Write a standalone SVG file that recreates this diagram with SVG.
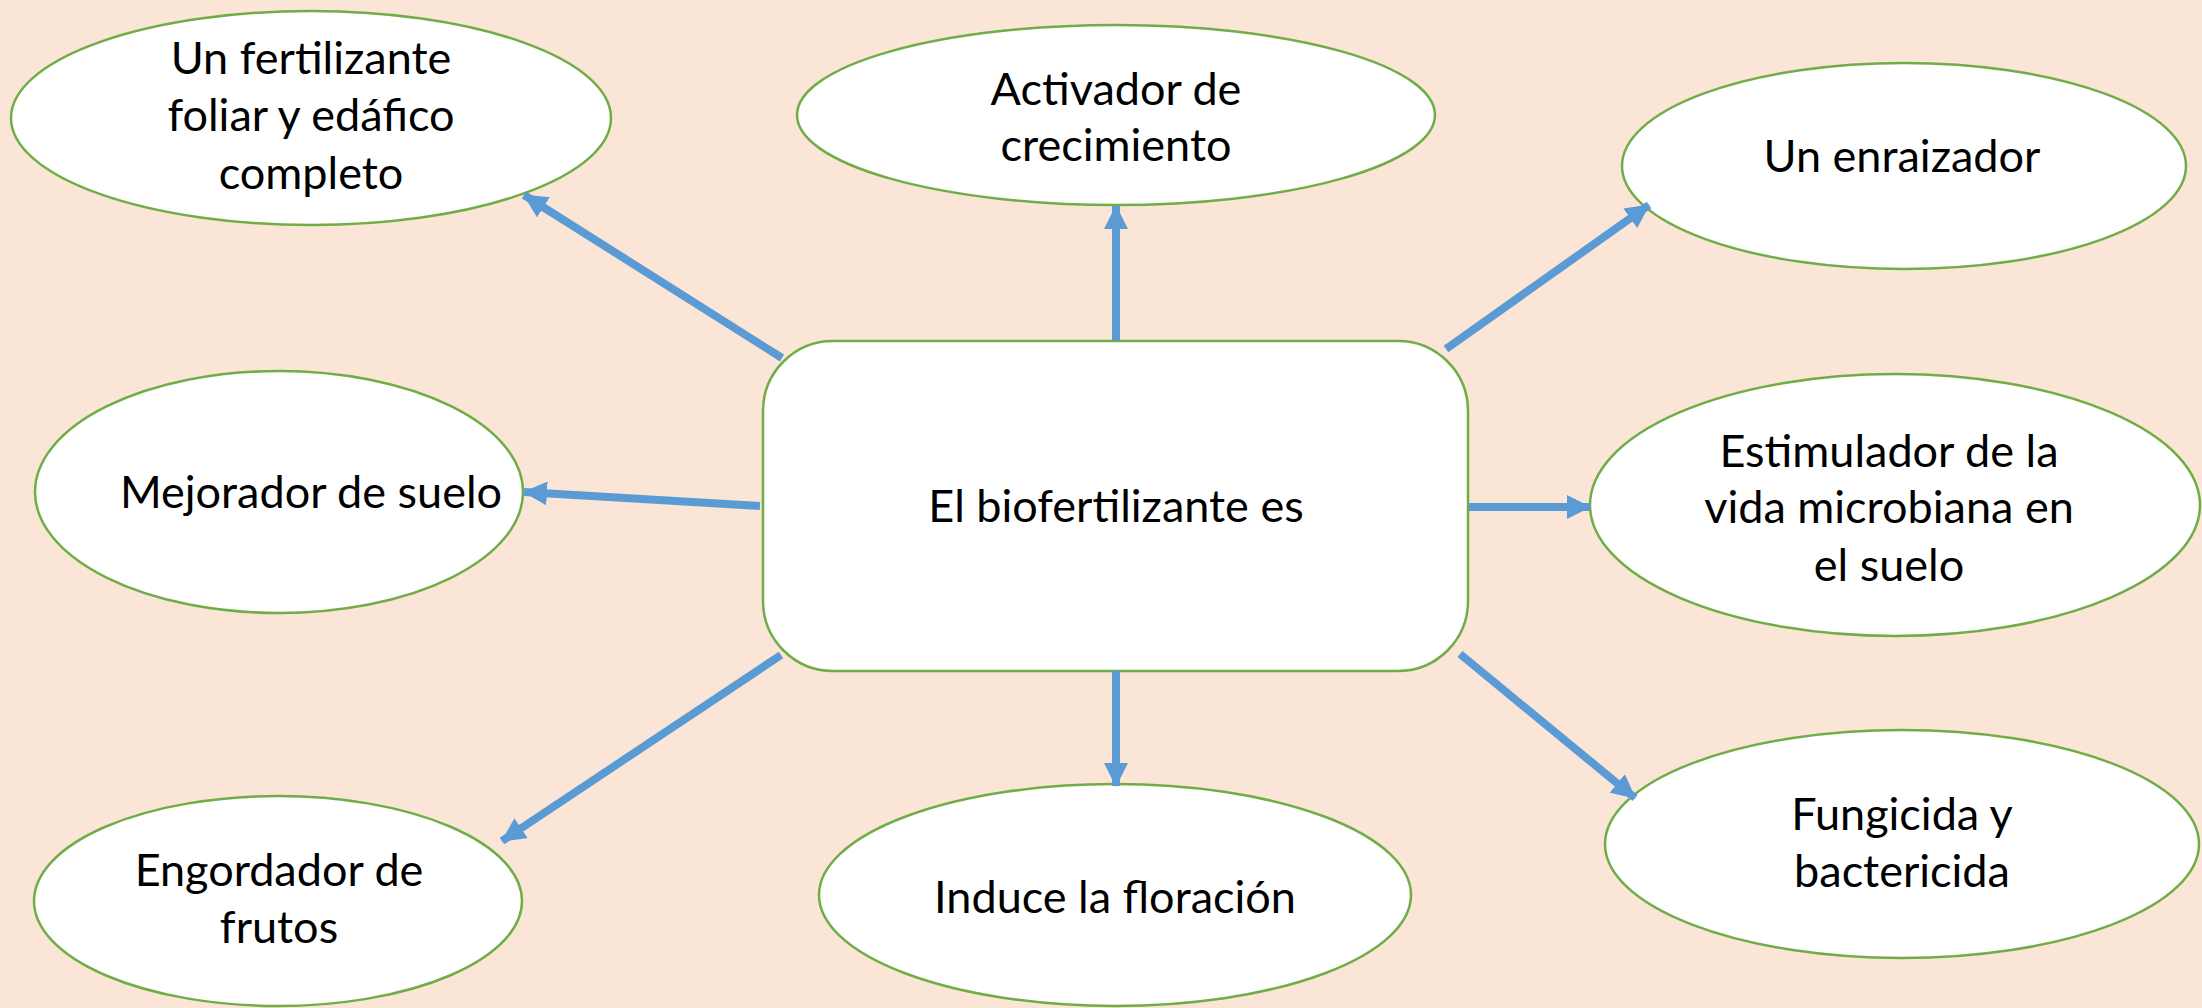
<svg xmlns="http://www.w3.org/2000/svg" width="2202" height="1008" viewBox="0 0 2202 1008">
<style>
.node{fill:#FFFFFF;stroke:#70AD47;stroke-width:2.5}
.lbl{font-family:Lato,"Open Sans","Liberation Sans",sans-serif;font-size:45px;fill:#000;text-anchor:middle}
.conn{stroke:#5B9BD5;stroke-width:8;fill:none}
</style>
<defs>
<marker id="ah" markerUnits="userSpaceOnUse" markerWidth="24" markerHeight="24" refX="23" refY="12" orient="auto">
<path d="M0,0 L24,12 L0,24 z" fill="#5B9BD5"/>
</marker>
</defs>
<rect x="0" y="0" width="2202" height="1008" fill="#FBE5D6"/>
<g id="center">
<rect class="node" x="763" y="341" width="705" height="330" rx="70" ry="70"/>
<text class="lbl" x="1116" y="522">El biofertilizante es</text>
</g>
<g id="n-fertilizante">
<ellipse class="node" cx="311" cy="118" rx="300" ry="107"/>
<text class="lbl" x="311" y="74">Un fertilizante</text>
<text class="lbl" x="311" y="131">foliar y edáfico</text>
<text class="lbl" x="311" y="189">completo</text>
</g>
<g id="n-activador">
<ellipse class="node" cx="1116" cy="115" rx="319" ry="90"/>
<text class="lbl" x="1116" y="105">Activador de</text>
<text class="lbl" x="1116" y="161">crecimiento</text>
</g>
<g id="n-enraizador">
<ellipse class="node" cx="1904" cy="166" rx="282" ry="103"/>
<text class="lbl" x="1902" y="172">Un enraizador</text>
</g>
<g id="n-mejorador">
<ellipse class="node" cx="279" cy="492" rx="244" ry="121"/>
<text class="lbl" x="311" y="508">Mejorador de suelo</text>
</g>
<g id="n-estimulador">
<ellipse class="node" cx="1895" cy="505" rx="305" ry="131"/>
<text class="lbl" x="1889" y="467">Estimulador de la</text>
<text class="lbl" x="1889" y="523">vida microbiana en</text>
<text class="lbl" x="1889" y="581">el suelo</text>
</g>
<g id="n-engordador">
<ellipse class="node" cx="278" cy="901" rx="244" ry="105"/>
<text class="lbl" x="279" y="886">Engordador de</text>
<text class="lbl" x="279" y="943">frutos</text>
</g>
<g id="n-induce">
<ellipse class="node" cx="1115" cy="895" rx="296" ry="111"/>
<text class="lbl" x="1115" y="913">Induce la floración</text>
</g>
<g id="n-fungicida">
<ellipse class="node" cx="1902" cy="844" rx="297" ry="114"/>
<text class="lbl" x="1902" y="830">Fungicida y</text>
<text class="lbl" x="1902" y="887">bactericida</text>
</g>
<g id="connectors">
<line class="conn" x1="782" y1="358" x2="524" y2="195" marker-end="url(#ah)"/>
<line class="conn" x1="1116" y1="340" x2="1116" y2="206" marker-end="url(#ah)"/>
<line class="conn" x1="1446" y1="349" x2="1649" y2="205" marker-end="url(#ah)"/>
<line class="conn" x1="760" y1="506" x2="524" y2="492" marker-end="url(#ah)"/>
<line class="conn" x1="1469" y1="507" x2="1590" y2="507" marker-end="url(#ah)"/>
<line class="conn" x1="781" y1="655" x2="502" y2="841" marker-end="url(#ah)"/>
<line class="conn" x1="1116" y1="671" x2="1116" y2="786" marker-end="url(#ah)"/>
<line class="conn" x1="1460" y1="654" x2="1635" y2="798" marker-end="url(#ah)"/>
</g>
</svg>
